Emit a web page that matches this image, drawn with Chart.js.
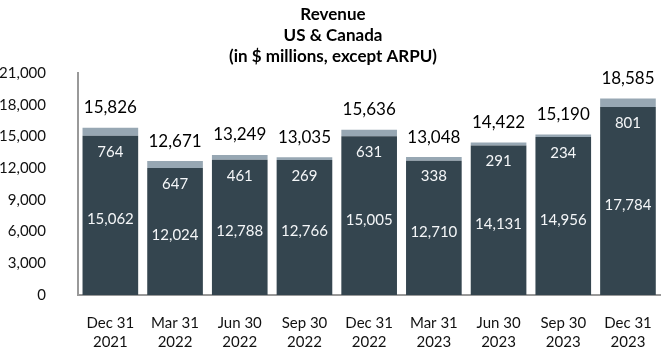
<!DOCTYPE html>
<html>
<head>
<meta charset="utf-8">
<script src="https://cdn.jsdelivr.net/npm/chart.js@4"></script>
<style>
  html, body { margin: 0; padding: 0; background: #fff; }
  #wrap { width: 670px; height: 352px; }
</style>
</head>
<body>
<div id="wrap"><canvas id="revChart"></canvas></div>
<script>
// Data
const periods = [['Dec 31', '2021'], ['Mar 31', '2022'], ['Jun 30', '2022'], ['Sep 30', '2022'],
    ['Dec 31', '2022'], ['Mar 31', '2023'], ['Jun 30', '2023'], ['Sep 30', '2023'], ['Dec 31', '2023']];
const baseValues = [15062, 12024, 12788, 12766, 15005, 12710, 14131, 14956, 17784];
const topValues = [764, 647, 461, 269, 631, 338, 291, 234, 801];
const totalValues = [15826, 12671, 13249, 13035, 15636, 13048, 14422, 15190, 18585];
const titleLines = ['Revenue', 'US & Canada', '(in $ millions, except ARPU)'];

const FONT = "Lato, 'Open Sans', sans-serif";
const fmt = (v) => v.toLocaleString('en-US');

// Draw segment labels and totals
const barLabels = {
    id: 'barLabels',
    afterDatasetsDraw(chart) {
        const ctx = chart.ctx;
        const baseMeta = chart.getDatasetMeta(0);
        const topMeta = chart.getDatasetMeta(1);
        ctx.save();
        ctx.textAlign = 'center';
        ctx.textBaseline = 'middle';
        baseMeta.data.forEach((bar, i) => {
            const topBar = topMeta.data[i];
            ctx.fillStyle = '#f4f6f8';
            ctx.font = '15px ' + FONT;
            ctx.fillText(fmt(baseValues[i]), bar.x, (bar.y + bar.base) / 2 + 4);
            ctx.fillText(fmt(topValues[i]), bar.x, bar.y + 16);
            ctx.fillStyle = '#000';
            ctx.font = '17px ' + FONT;
            ctx.fillText(fmt(totalValues[i]), bar.x, topBar.y - 20);
        });
        ctx.restore();
    }
};

new Chart(document.getElementById('revChart'), {
    type: 'bar',
    data: {
        labels: periods,
        datasets: [{
            label: 'Base',
            data: baseValues,
            backgroundColor: '#34454f',
            barPercentage: 0.86,
            categoryPercentage: 1
        }, {
            label: 'Top',
            data: topValues,
            backgroundColor: '#97a7b3',
            barPercentage: 0.86,
            categoryPercentage: 1
        }]
    },
    options: {
        responsive: true,
        maintainAspectRatio: false,
        animation: false,
        layout: { padding: { left: 0, right: 4, top: 0, bottom: 0 } },
        scales: {
            x: {
                stacked: true,
                grid: { display: false, drawTicks: false },
                border: { display: true, color: '#999', width: 2 },
                ticks: { color: '#111', font: { family: FONT, size: 15, lineHeight: 1.3 }, padding: 18, maxRotation: 0 },
                afterFit: (s) => { s.height = 57; }
            },
            y: {
                stacked: true,
                min: 0,
                max: 21000,
                grid: { display: false, drawTicks: false },
                border: { display: true, color: '#999', width: 2 },
                ticks: { stepSize: 3000, color: '#111', font: { family: FONT, size: 15 }, padding: 32,
                    callback: (v) => fmt(v) },
                afterFit: (s) => { s.width = 78; }
            }
        },
        plugins: {
            legend: { display: false },
            tooltip: { enabled: false },
            title: {
                display: true,
                text: titleLines,
                color: '#000',
                font: { family: FONT, size: 17, weight: 'bold', lineHeight: 1.235 },
                padding: { top: 4, bottom: 6 }
            }
        }
    },
    plugins: [barLabels]
});
</script>
</body>
</html>
